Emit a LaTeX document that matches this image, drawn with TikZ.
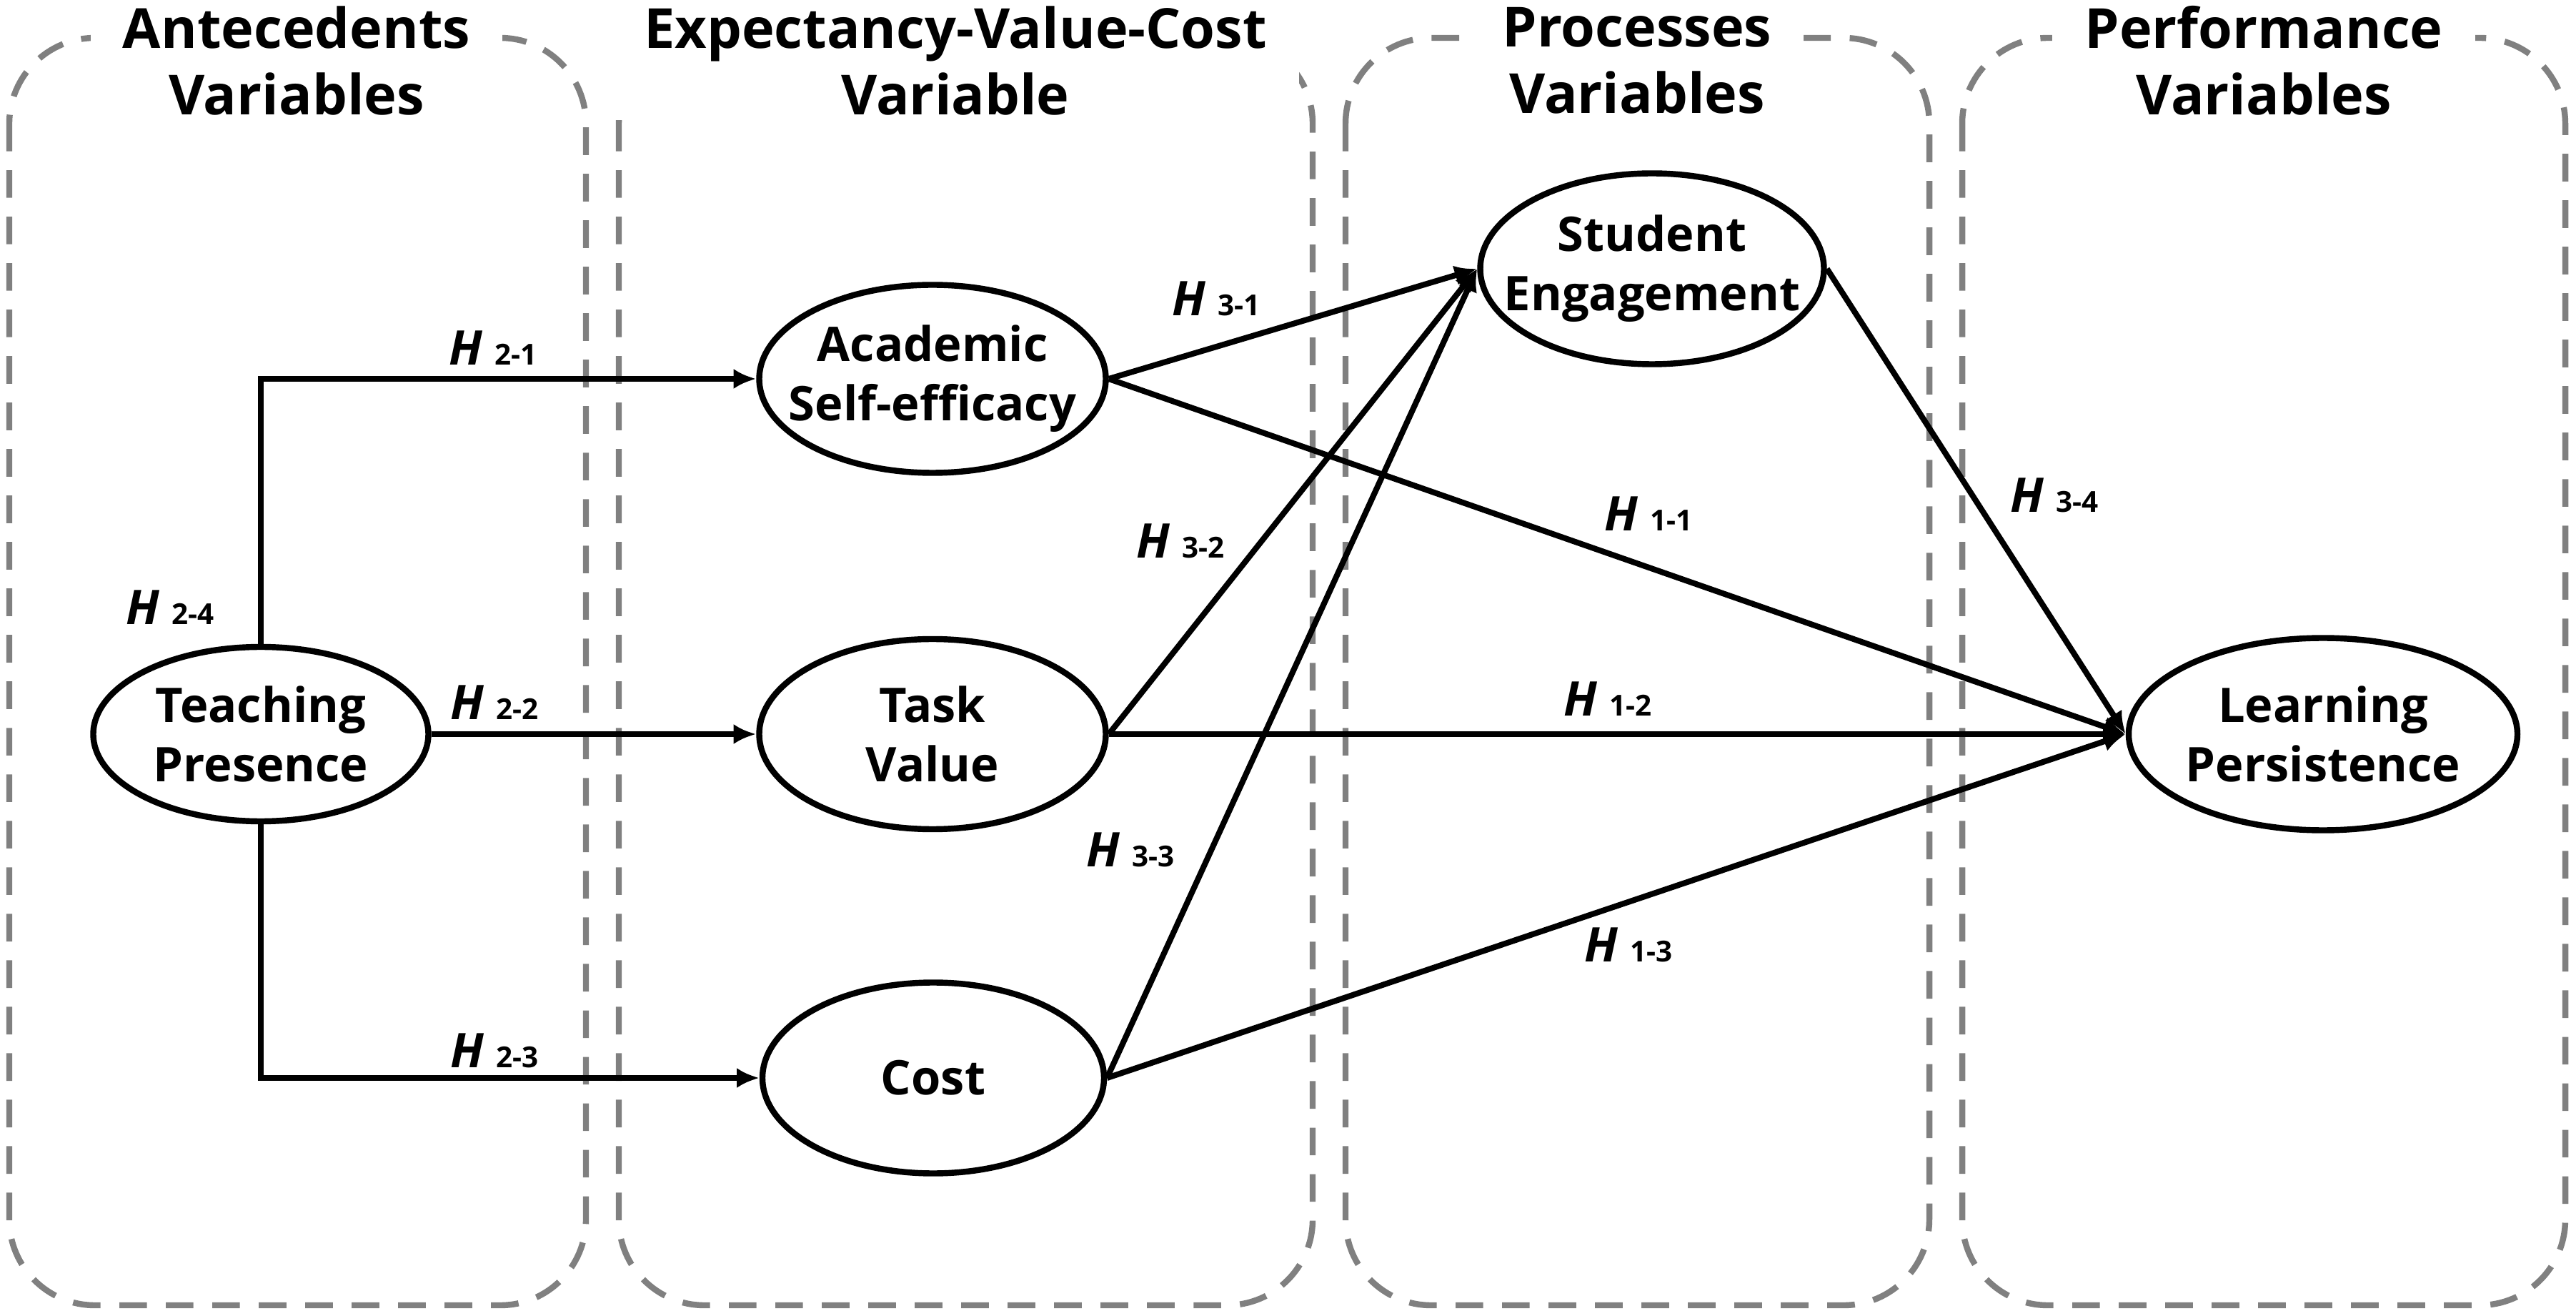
\documentclass[tikz,border=0pt]{standalone}
\usepackage{fontspec}
\setmainfont{Open Sans}
\usetikzlibrary{shapes.geometric,arrows.meta}

\newcommand{\hyp}[1]{{\fontsize{19}{20}\selectfont\bfseries\itshape H}\hspace{5pt}{\fontsize{11.5}{12}\selectfont\bfseries #1}}

\begin{document}
\begin{tikzpicture}[x=1cm,y=-1cm,
    caja/.style={draw=gray, line width=2.4pt, dash pattern=on 11pt off 7.5pt, rounded corners=1.2cm},
    titulo/.style={fill=white, align=center, inner xsep=0.45cm, inner ysep=2pt, font=\fontsize{22}{26.5}\selectfont\bfseries},
    var/.style={draw, ellipse, line width=2.4pt, inner sep=0pt},
    txt/.style={align=center, font=\fontsize{19}{23.6}\selectfont\bfseries},
    flecha/.style={line width=2.3pt, -{Latex[length=9pt,width=8pt]}},
    hip/.style={inner sep=0pt}]

  \useasboundingbox (0,0) rectangle (36.05,18.34);

  % Dibujar las cajas de variables
  \draw[caja] (0.13,0.53) rectangle (8.20,18.26);
  \draw[caja] (8.66,0.53) rectangle (18.37,18.26);
  \draw[caja] (18.83,0.53) rectangle (27.00,18.26);
  \draw[caja] (27.46,0.53) rectangle (35.90,18.26);

  % Titulos
  \node[titulo] (t1) at (4.15,0.85) {Antecedents\\Variables};
  \node[titulo] (t2) at (13.37,0.85) {Expectancy-Value-Cost\\Variable};
  \node[titulo] (t3) at (22.91,0.85) {Processes\\Variables};
  \node[titulo] (t4) at (31.68,0.85) {Performance\\Variables};

  % Variables
  \node[var, minimum width=4.69cm, minimum height=2.44cm] (tp) at (3.65,10.27) {};
  \node[txt] (tpt) at (tp) {Teaching\\Presence};
  \node[var, minimum width=4.85cm, minimum height=2.63cm] (ase) at (13.05,5.30) {};
  \node[txt] (aset) at (ase) {Academic\\Self-efficacy};
  \node[var, minimum width=4.85cm, minimum height=2.66cm] (tv) at (13.05,10.27) {};
  \node[txt] (tvt) at (tv) {Task\\Value};
  \node[var, minimum width=4.78cm, minimum height=2.67cm] (cost) at (13.06,15.08) {};
  \node[txt] (costt) at (cost) {Cost};
  \node[var, minimum width=4.81cm, minimum height=2.67cm] (se) at (23.12,3.76) {};
  \node[txt] (set) at (se) {Student\\Engagement};
  \node[var, minimum width=5.44cm, minimum height=2.69cm] (lp) at (32.51,10.27) {};
  \node[txt] (lpt) at (lp) {Learning\\Persistence};

  % Flechas
  \draw[flecha] (tp.north) |- (ase.west);
  \draw[flecha] (tp.east) -- (tv.west);
  \draw[flecha] (tp.south) |- (cost.west);
  \draw[flecha] (ase.east) -- (se.west);
  \draw[flecha] (tv.east) -- (se.west);
  \draw[flecha] (cost.east) -- (se.west);
  \draw[flecha] (ase.east) -- (lp.west);
  \draw[flecha] (tv.east) -- (lp.west);
  \draw[flecha] (cost.east) -- (lp.west);
  \draw[flecha] (se.east) -- (lp.west);

  % Hipotesis
  \node[hip] (h21) at (6.90,4.87) {\hyp{2-1}};
  \node[hip] (h24) at (2.38,8.50) {\hyp{2-4}};
  \node[hip] (h22) at (6.92,9.83) {\hyp{2-2}};
  \node[hip] (h23) at (6.92,14.70) {\hyp{2-3}};
  \node[hip] (h31) at (17.02,4.18) {\hyp{3-1}};
  \node[hip] (h32) at (16.52,7.57) {\hyp{3-2}};
  \node[hip] (h33) at (15.82,11.89) {\hyp{3-3}};
  \node[hip] (h34) at (28.75,6.93) {\hyp{3-4}};
  \node[hip] (h11) at (23.07,7.19) {\hyp{1-1}};
  \node[hip] (h12) at (22.50,9.78) {\hyp{1-2}};
  \node[hip] (h13) at (22.79,13.22) {\hyp{1-3}};

\end{tikzpicture}
\end{document}
